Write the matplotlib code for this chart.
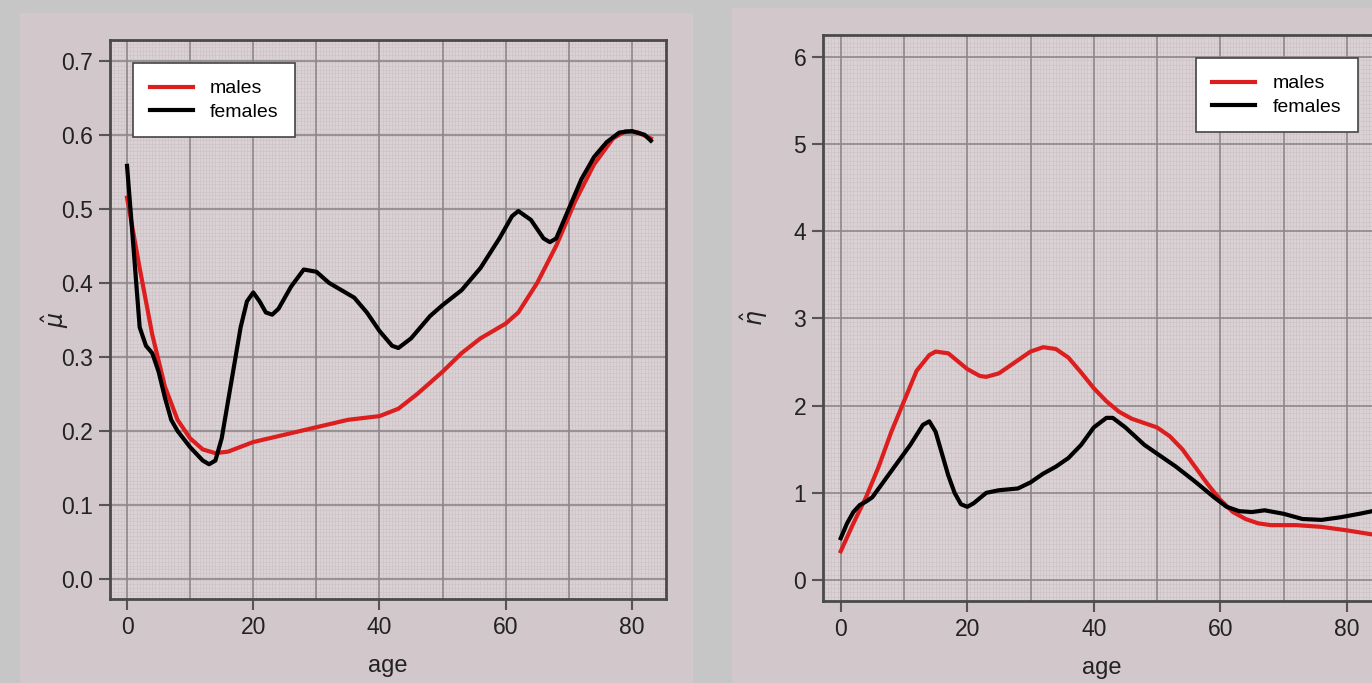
import matplotlib
matplotlib.use("Agg")
import matplotlib.pyplot as plt
from matplotlib.patches import Rectangle
from matplotlib.ticker import MultipleLocator, FormatStrFormatter

# left panel: mu hat by age
mu_m_age = [0, 2, 4, 6, 8, 10, 12, 14, 16, 20, 25, 30, 35, 40, 43, 46, 50, 53, 56, 60,
            62, 65, 68, 71, 74, 77, 79, 81, 83]
mu_m = [0.515, 0.42, 0.33, 0.26, 0.215, 0.19, 0.175, 0.17, 0.172, 0.185, 0.195, 0.205,
        0.215, 0.22, 0.23, 0.25, 0.28, 0.305, 0.325, 0.345, 0.36, 0.4, 0.45, 0.51, 0.56,
        0.595, 0.605, 0.603, 0.595]
mu_f_age = [0, 1, 2, 3, 4, 5, 6, 7, 8, 10, 12, 13, 14, 15, 16, 17, 18, 19, 20, 21, 22,
            23, 24, 26, 28, 30, 32, 34, 36, 38, 40, 42, 43, 45, 48, 50, 53, 56, 59, 61,
            62, 64, 66, 67, 68, 70, 72, 74, 76, 78, 80, 82, 83]
mu_f = [0.558, 0.45, 0.34, 0.315, 0.305, 0.28, 0.245, 0.215, 0.2, 0.178, 0.16, 0.155,
        0.16, 0.19, 0.24, 0.29, 0.34, 0.375, 0.387, 0.375, 0.36, 0.357, 0.365, 0.395,
        0.418, 0.415, 0.4, 0.39, 0.38, 0.36, 0.335, 0.315, 0.312, 0.325, 0.355, 0.37,
        0.39, 0.42, 0.46, 0.49, 0.497, 0.485, 0.46, 0.455, 0.46, 0.5, 0.54, 0.57, 0.59,
        0.603, 0.605, 0.6, 0.592]

# right panel: eta hat by age
eta_m_age = [0, 2, 4, 6, 8, 10, 12, 14, 15, 17, 20, 22, 23, 25, 28, 30, 32, 34, 36, 38,
             40, 42, 44, 46, 48, 50, 52, 54, 56, 58, 60, 62, 64, 66, 68, 72, 76, 80, 86]
eta_m = [0.33, 0.65, 0.95, 1.3, 1.7, 2.05, 2.4, 2.58, 2.62, 2.6, 2.42, 2.34, 2.33, 2.37,
         2.52, 2.62, 2.67, 2.65, 2.55, 2.38, 2.2, 2.05, 1.93, 1.85, 1.8, 1.75, 1.65, 1.5,
         1.3, 1.1, 0.92, 0.78, 0.7, 0.65, 0.63, 0.63, 0.61, 0.57, 0.5]
eta_f_age = [0, 1, 2, 3, 4, 5, 7, 9, 11, 13, 14, 15, 16, 17, 18, 19, 20, 21, 23, 25, 28,
             30, 32, 34, 36, 38, 40, 42, 43, 45, 48, 50, 53, 56, 59, 61, 63, 65, 67, 70,
             73, 76, 79, 82, 86]
eta_f = [0.48, 0.65, 0.78, 0.86, 0.9, 0.95, 1.15, 1.35, 1.55, 1.78, 1.82, 1.7, 1.45, 1.2,
         1.0, 0.87, 0.84, 0.88, 1.0, 1.03, 1.05, 1.12, 1.22, 1.3, 1.4, 1.55, 1.75, 1.86,
         1.86, 1.75, 1.55, 1.45, 1.3, 1.13, 0.95, 0.84, 0.79, 0.78, 0.8, 0.76, 0.7, 0.69,
         0.72, 0.76, 0.82]

plt.rcParams['font.family'] = ['Liberation Sans', 'DejaVu Sans']
plt.rcParams['mathtext.fontset'] = 'dejavusans'

W, H = 1372, 683
fig = plt.figure(figsize=(W / 100, H / 100), dpi=100)
fig.patch.set_facecolor('#c6c6c6')

# pink panels behind each plot
for x0, y0, x1, y1 in [(20, 13, 693, 683), (732, 8, 1372, 683)]:
    fig.patches.append(Rectangle((x0 / W, 1 - y1 / H), (x1 - x0) / W, (y1 - y0) / H,
                                 transform=fig.transFigure, facecolor='#d2c7cb',
                                 edgecolor='none', zorder=-5))

red = '#dc1e1e'
edge = '#4a4a4a'


def setup(ax, ylab, ymaj, ymin, legloc, fmt, ylab_x):
    ax.set_facecolor('#dbd2d6')
    ax.xaxis.set_major_locator(MultipleLocator(20))
    ax.xaxis.set_minor_locator(MultipleLocator(10))
    ax.yaxis.set_major_locator(MultipleLocator(ymaj))
    ax.yaxis.set_major_formatter(FormatStrFormatter(fmt))
    ax.grid(True, which='major', color='#8e878a', lw=1.2)
    ax.grid(True, which='minor', axis='x', color='#8e878a', lw=1.2)
    # fine background mesh
    xmn, xmx = ax.get_xlim()
    ymn, ymx = ax.get_ylim()
    k = 0
    while -3 + k * 0.5 <= xmx:
        ax.axvline(-3 + k * 0.5, color='#d0c6ca', lw=0.6, zorder=0.5)
        k += 1
    k = 0
    while ymn + k * ymin <= ymx:
        ax.axhline(ymn + k * ymin, color='#d0c6ca', lw=0.6, zorder=0.5)
        k += 1
    ax.set_xlim(xmn, xmx)
    ax.set_ylim(ymn, ymx)
    ax.set_axisbelow(True)
    for s in ax.spines.values():
        s.set_color(edge)
        s.set_linewidth(2)
    ax.tick_params(which='major', direction='out', length=8, width=1.5, color='#555555',
                   labelsize=16.5, labelcolor='#222222', pad=4)
    ax.tick_params(which='minor', length=0)
    ax.set_xlabel('age', fontsize=17, color='#222222', labelpad=12)
    ax.set_ylabel(ylab, fontsize=17, color='#222222')
    ax.yaxis.set_label_coords(ylab_x, 0.5)
    leg = ax.legend(loc=legloc, prop={'size': 14},
                    frameon=True, fancybox=False, framealpha=1, edgecolor='#444444',
                    handlelength=2.2, borderpad=0.85, labelspacing=0.3, handletextpad=0.9,
                    borderaxespad=1.2)
    leg.get_frame().set_linewidth(1.2)


# left axes: x 110..666, y 40..599
ax1 = fig.add_axes([110 / W, 1 - 599 / H, (666 - 110) / W, (599 - 40) / H])
ax1.plot(mu_m_age, mu_m, color=red, lw=3, label='males', zorder=3)
ax1.plot(mu_f_age, mu_f, color='black', lw=3, label='females', zorder=3)
ax1.set_xlim(-2.7, 85.4)
ax1.set_ylim(-0.027, 0.728)
setup(ax1, r'$\hat{\mu}$', 0.1, 0.005, 'upper left', '%.1f', -0.07)

# right axes: x 823..~1381 (cut by figure edge), y 35..601
ax2 = fig.add_axes([823 / W, 1 - 601 / H, (1381 - 823) / W, (601 - 35) / H])
ax2.plot(eta_m_age, eta_m, color=red, lw=3, label='males', zorder=3)
ax2.plot(eta_f_age, eta_f, color='black', lw=3, label='females', zorder=3)
ax2.set_xlim(-2.8, 85.4)
ax2.set_ylim(-0.24, 6.25)
setup(ax2, r'$\hat{\eta}$', 1, 0.05, 'upper right', '%d', -0.095)

fig.savefig('out.png', dpi=100, facecolor=fig.get_facecolor())
